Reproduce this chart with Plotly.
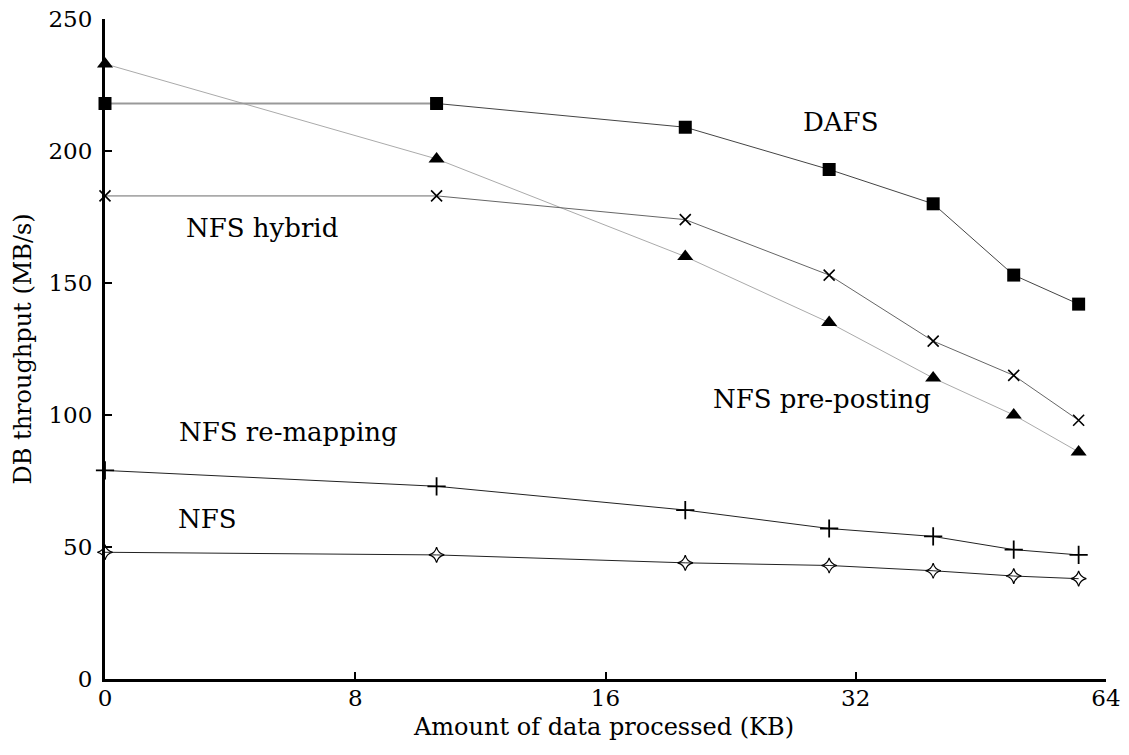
import numpy as np
import plotly.graph_objects as go

# Tick values (KB) on the x axis - these ticks are evenly spaced on the chart
tick_kb = [0, 8, 16, 32, 64]
tick_labels = ["0", "8", "16", "32", "64"]
y_ticks = [0, 50, 100, 150, 200, 250]

# Data (x in KB)
x_kb = [0, 10.6, 21.1, 30.3, 41.9, 52.2, 60.5]
dafs = [218, 218, 209, 193, 180, 153, 142]
nfs_hybrid = [183, 183, 174, 153, 128, 115, 98]
nfs_preposting = [233, 197, 160, 135, 114, 100, 86]
nfs_remapping = [79, 73, 64, 57, 54, 49, 47]
nfs = [48, 47, 44, 43, 41, 39, 38]

# axis scale: piecewise-linear so the ticks are evenly spaced
tick_pos = list(range(len(tick_kb)))
def scale(v):
    return np.interp(v, tick_kb, tick_pos)

xs = scale(x_kb)

fig = go.Figure()

def add(y, line_color, symbol, msize, mline=0, mcolor="black", first_seg_color=None, lw=1):
    if first_seg_color is not None:
        fig.add_trace(go.Scatter(x=xs[:2], y=y[:2], mode="lines",
                                 line=dict(color=first_seg_color, width=lw + 0.8),
                                 showlegend=False, hoverinfo="skip"))
        fig.add_trace(go.Scatter(x=xs[1:], y=y[1:], mode="lines",
                                 line=dict(color=line_color, width=lw),
                                 showlegend=False, hoverinfo="skip"))
    else:
        fig.add_trace(go.Scatter(x=xs, y=y, mode="lines",
                                 line=dict(color=line_color, width=lw),
                                 showlegend=False, hoverinfo="skip"))
    fig.add_trace(go.Scatter(x=xs, y=y, mode="markers",
                             marker=dict(symbol=symbol, size=msize, color=mcolor,
                                         line=dict(width=mline, color="black")),
                             showlegend=False, cliponaxis=False))

add(nfs_preposting, "#aaaaaa", "triangle-up", 14)
add(nfs_hybrid, "#666666", "x-thin", 11, mline=1.6, first_seg_color="#aaaaaa")
add(dafs, "#444444", "square", 13, first_seg_color="#999999")
add(nfs_remapping, "#222222", "cross-thin", 13, mline=1.8)
add(nfs, "#222222", "star-diamond-open", 11, mline=1.2)

font_family = "DejaVu Serif, serif"

annots = [
    ("DAFS", 2.94, 211),
    ("NFS hybrid", 0.626, 171),
    ("NFS pre-posting", 2.867, 106),
    ("NFS re-mapping", 0.733, 93.5),
    ("NFS", 0.41, 60.5),
]
for text, ax_, ay_ in annots:
    fig.add_annotation(x=ax_, y=ay_, xref="x", yref="y", text=text, showarrow=False,
                       font=dict(family=font_family, size=26, color="black"))

# axis titles
fig.add_annotation(x=0.498, y=-0.072, xref="paper", yref="paper",
                   text="Amount of data processed (KB)", showarrow=False,
                   xanchor="center", yanchor="middle",
                   font=dict(family=font_family, size=24, color="black"))
fig.add_annotation(x=-0.0824, y=0.5, xref="paper", yref="paper",
                   text="DB throughput (MB/s)", showarrow=False, textangle=-90,
                   xanchor="center", yanchor="middle",
                   font=dict(family=font_family, size=24, color="black"))

# page body has an 8px margin: figure is offset by (8, 8)
fig.update_layout(
    width=1113, height=739,
    margin=dict(l=96.5, r=15, t=10.7, b=68.3, autoexpand=False),
    paper_bgcolor="white", plot_bgcolor="white",
    font=dict(family=font_family, size=23, color="black"),
    showlegend=False,
    xaxis=dict(range=[0, 4], tickvals=tick_pos, ticktext=tick_labels, automargin=False,
               showgrid=False, zeroline=False, showline=True, linecolor="black", linewidth=3,
               ticks="inside", ticklen=7, tickwidth=2, tickcolor="black",
               ticklabelstandoff=-4, ticklabeloverflow="allow"),
    yaxis=dict(range=[0, 250], tickvals=y_ticks, automargin=False,
               showgrid=False, zeroline=False, showline=True, linecolor="black", linewidth=3,
               ticks="inside", ticklen=7, tickwidth=2, tickcolor="black",
               ticklabelstandoff=5, ticklabeloverflow="allow"),
)

fig.write_html("out.html")
